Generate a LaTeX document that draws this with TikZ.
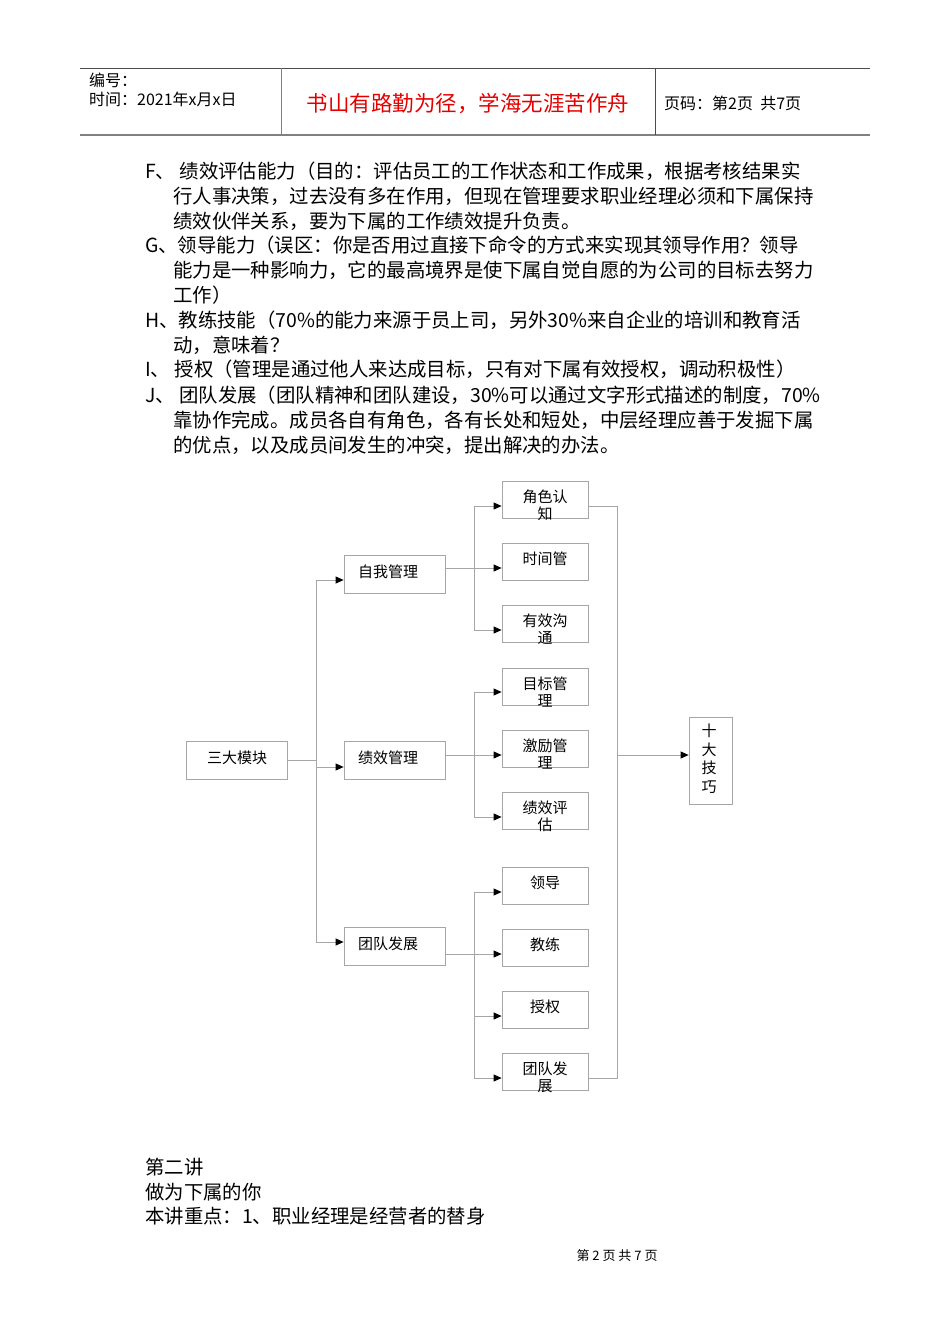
\documentclass[tikz,border=0pt]{standalone}
\usepackage{fontspec}
\setmainfont{Noto Sans CJK SC}
\usetikzlibrary{arrows.meta}
\begin{document}
\begin{tikzpicture}[x=1pt,y=-1pt,
  bx/.style={draw=black!35,line width=0.8pt,inner sep=0pt},
  bt/.style={font=\fontsize{15}{17}\selectfont,align=center},
  tx/.style={anchor=west,inner sep=0pt,font=\fontsize{19.4}{21}\selectfont},
  cn/.style={draw=black!35,line width=0.8pt},
  ar/.style={cn,-{Triangle[length=8pt,width=7pt,black]}}]
\useasboundingbox (0,0) rectangle (950,1344);
% header
\draw[line width=1pt,black!70] (80,68) -- (870,68);
\draw[line width=1.2pt,black!50] (80,135) -- (870,135);
\draw[line width=0.8pt,black!50] (281,68) -- (281,135);
\draw[line width=0.8pt,black!70] (655,68) -- (655,135);
\node[anchor=west,inner sep=0pt,font=\fontsize{16}{18}\selectfont] (h1) at (89,80) {编号：};
\node[anchor=west,inner sep=0pt,font=\fontsize{16}{18}\selectfont] (h2) at (89,99) {时间：2021年x月x日};
\node[inner sep=0pt,text=red!90!black,font=\fontsize{21.5}{23}\selectfont] (h3) at (468,104) {书山有路勤为径，学海无涯苦作舟};
\node[anchor=west,inner sep=0pt,font=\fontsize{16}{18}\selectfont] (h4) at (664,103) {页码：第2页\ \ 共7页};
% body text
\node[tx] (t1) at (145,171) {F、\ 绩效评估能力（目的：评估员工的工作状态和工作成果，根据考核结果实};
\node[tx] (t2) at (173,196) {行人事决策，过去没有多在作用，但现在管理要求职业经理必须和下属保持};
\node[tx] (t3) at (173,221) {绩效伙伴关系，要为下属的工作绩效提升负责。};
\node[tx] (t4) at (145,245) {G、领导能力（误区：你是否用过直接下命令的方式来实现其领导作用？领导};
\node[tx] (t5) at (173,270) {能力是一种影响力，它的最高境界是使下属自觉自愿的为公司的目标去努力};
\node[tx] (t6) at (173,295) {工作）};
\node[tx] (t7) at (145,320) {H、教练技能（70\%的能力来源于员上司，另外30\%来自企业的培训和教育活};
\node[tx] (t8) at (173,345) {动，意味着？};
\node[tx] (t9) at (145,369) {I、\ 授权（管理是通过他人来达成目标，只有对下属有效授权，调动积极性）};
\node[tx] (t10) at (145,395) {J、\ 团队发展（团队精神和团队建设，30\%可以通过文字形式描述的制度，70\%};
\node[tx] (t11) at (173,420) {靠协作完成。成员各自有角色，各有长处和短处，中层经理应善于发掘下属};
\node[tx] (t12) at (173,445) {的优点，以及成员间发生的冲突，提出解决的办法。};
% boxes
\node[bx,minimum width=101pt,minimum height=38pt] (root) at (236.5,760) {};
\node[bt] at (237,758) {三大模块};
\foreach \n/\y/\t in {m1/574/自我管理,m2/760/绩效管理,m3/946/团队发展}{
  \node[bx,minimum width=101pt,minimum height=38pt] (\n) at (394.5,\y) {};
  \node[bt] at (388,\y-2) {\t};}
\foreach \n/\y/\t in {a1/499.5/角色认\\知,a2/561.5/时间管,a3/624/有效沟\\通,a4/686.5/目标管\\理,a5/748.5/激励管\\理,a6/810.5/绩效评\\估,a7/885.5/领导,a8/947.5/教练,a9/1009.5/授权,a10/1072/团队发\\展}{
  \node[bx,minimum width=86pt,minimum height=37pt] (\n) at (545,\y) {};
  \node[bt,anchor=north,inner sep=0pt] at (545,\y-10) {\t};}
\node[bx,minimum width=43pt,minimum height=87pt] (ten) at (710.5,760.5) {};
\node[bt,anchor=north,inner sep=0pt,font=\fontsize{15}{18.5}\selectfont] at (709,724) {十\\大\\技\\巧};
% connectors
\coordinate (r1) at (316,760);
\draw[cn] (root.east) -- (r1);
\draw[cn] (316,580) -- (316,942);
\draw[ar] (316,580) -- (m1.west|-0,580);
\draw[ar] (316,767) -- (m2.west|-0,767);
\draw[ar] (316,942) -- (m3.west|-0,942);
\foreach \m/\ym in {m1/568,m2/755,m3/954}{
  \draw[cn] (\m.east|-0,\ym) -- (474,\ym);}
\draw[cn] (474,506) -- (474,630);
\draw[cn] (474,692) -- (474,817);
\draw[cn] (474,892) -- (474,1078);
\foreach \n/\y in {a1/506,a2/568,a3/630,a4/692,a5/755,a6/817,a7/892,a8/954,a9/1016,a10/1078}{
  \draw[ar] (474,\y) -- (\n.west|-0,\y);}
\draw[cn] (a1.east|-0,506) -- (617,506) -- (617,1078) -- (a10.east|-0,1078);
\draw[ar] (617,755) -- (ten.west|-0,755);
% bottom text
\node[tx] (b1) at (145,1167) {第二讲};
\node[tx] (b2) at (145,1192) {做为下属的你};
\node[tx] (b3) at (145,1216) {本讲重点：1、职业经理是经营者的替身};
\node[inner sep=0pt,font=\fontsize{13}{15}\selectfont] (ft) at (617,1256) {第\ 2\ 页\ 共\ 7\ 页};
\end{tikzpicture}
\end{document}
